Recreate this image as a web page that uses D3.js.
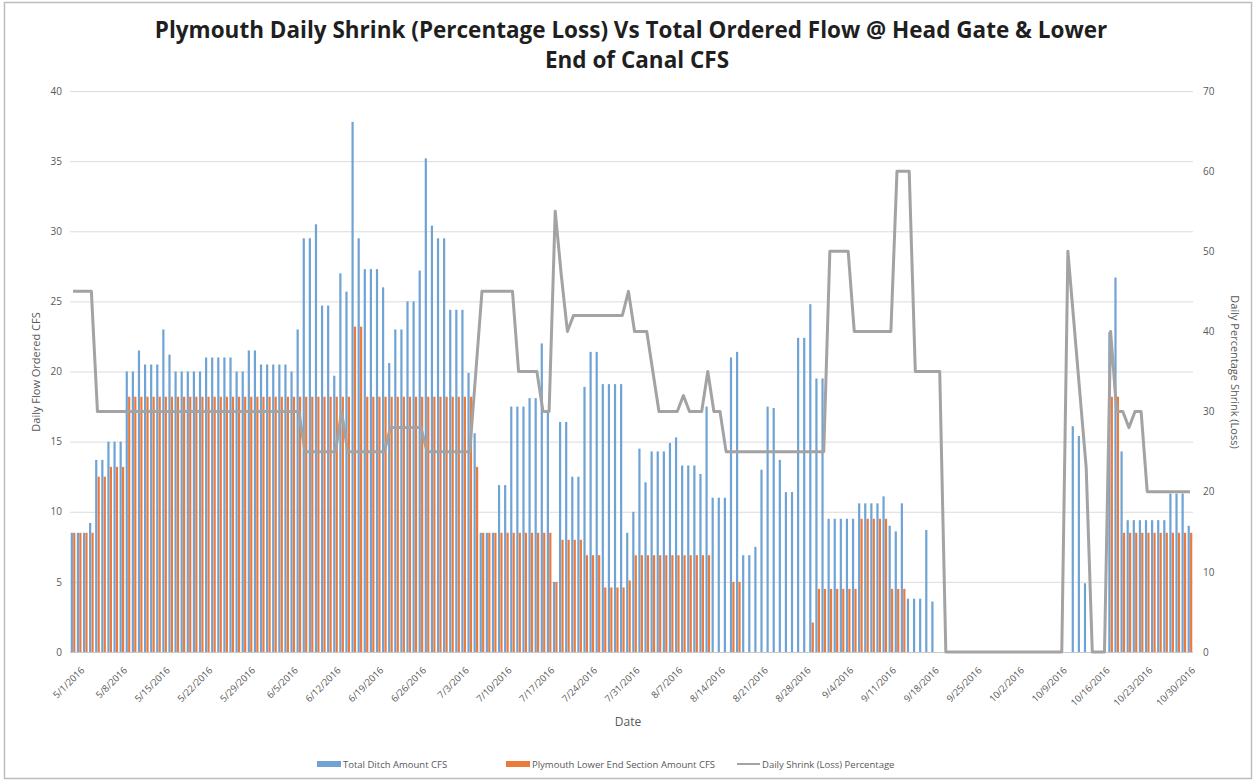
<!DOCTYPE html>
<html><head><meta charset="utf-8">
<script src="https://cdn.jsdelivr.net/npm/d3@7"></script>
<style>body{margin:0;background:#fff;} svg{display:block;}</style>
</head><body>
<svg id="c" width="1257" height="782"></svg>
<script>
// ---------- DATA ----------
const startDate = "2016-05-01";
const dayCount = 184;

const totalDitch = [
 8.5, 8.5, 8.5, 9.2, 13.7, 13.7, 15, 15, 15, 20,
 20, 21.5, 20.5, 20.5, 20.5, 23, 21.2, 20, 20, 20,
 20, 20, 21, 21, 21, 21, 21, 20, 20, 21.5,
 21.5, 20.5, 20.5, 20.5, 20.5, 20.5, 20, 23, 29.5, 29.5,
 30.5, 24.7, 24.7, 19.7, 27, 25.7, 37.8, 29.5, 27.3, 27.3,
 27.3, 26, 20.6, 23, 23, 25, 25, 27.2, 35.2, 30.4,
 29.5, 29.5, 24.4, 24.4, 24.4, 19.9, 15.6, 8.5, 8.5, 8.5,
 11.9, 11.9, 17.5, 17.5, 17.5, 18.1, 18.1, 22, 17.1, 5,
 16.4, 16.4, 12.5, 12.5, 18.9, 21.4, 21.4, 19.1, 19.1, 19.1,
 19.1, 8.5, 10, 14.5, 12.1, 14.3, 14.3, 14.3, 14.9, 15.3,
 13.3, 13.3, 13.3, 12.7, 17.5, 11, 11, 11, 21, 21.4,
 6.9, 6.9, 7.5, 13, 17.5, 17.4, 13.7, 11.4, 11.4, 22.4,
 22.4, 24.8, 19.5, 19.5, 9.5, 9.5, 9.5, 9.5, 9.5, 10.6,
 10.6, 10.6, 10.6, 11.1, 9.0, 8.6, 10.6, 3.8, 3.8, 3.8,
 8.7, 3.6, 0, 0, 0, 0, 0, 0, 0, 0,
 0, 0, 0, 0, 0, 0, 0, 0, 0, 0,
 0, 0, 0, 0, 16.1, 15.4, 4.9, 0, 0, 0,
 22.8, 26.7, 14.3, 9.4, 9.4, 9.4, 9.4, 9.4, 9.4, 9.4,
 11.3, 11.3, 11.3, 9.0
];

const lowerEnd = [
 8.5, 8.5, 8.5, 8.5, 12.5, 12.5, 13.2, 13.2, 13.2, 18.2,
 18.2, 18.2, 18.2, 18.2, 18.2, 18.2, 18.2, 18.2, 18.2, 18.2,
 18.2, 18.2, 18.2, 18.2, 18.2, 18.2, 18.2, 18.2, 18.2, 18.2,
 18.2, 18.2, 18.2, 18.2, 18.2, 18.2, 18.2, 18.2, 18.2, 18.2,
 18.2, 18.2, 18.2, 18.2, 18.2, 18.2, 23.2, 23.2, 18.2, 18.2,
 18.2, 18.2, 18.2, 18.2, 18.2, 18.2, 18.2, 18.2, 18.2, 18.2,
 18.2, 18.2, 18.2, 18.2, 18.2, 18.2, 13.2, 8.5, 8.5, 8.5,
 8.5, 8.5, 8.5, 8.5, 8.5, 8.5, 8.5, 8.5, 8.5, 5,
 8, 8, 8, 8, 6.9, 6.9, 6.9, 4.6, 4.6, 4.6,
 4.6, 5.1, 6.9, 6.9, 6.9, 6.9, 6.9, 6.9, 6.9, 6.9,
 6.9, 6.9, 6.9, 6.9, 6.9, 0, 0, 0, 5, 5,
 0, 0, 0, 0, 0, 0, 0, 0, 0, 0,
 0, 2.1, 4.5, 4.5, 4.5, 4.5, 4.5, 4.5, 4.5, 9.5,
 9.5, 9.5, 9.5, 9.5, 4.5, 4.5, 4.5, 0, 0, 0,
 0, 0, 0, 0, 0, 0, 0, 0, 0, 0,
 0, 0, 0, 0, 0, 0, 0, 0, 0, 0,
 0, 0, 0, 0, 0, 0, 0, 0, 0, 0,
 18.2, 18.2, 8.5, 8.5, 8.5, 8.5, 8.5, 8.5, 8.5, 8.5,
 8.5, 8.5, 8.5, 8.5
];

const shrinkPct = [
 45, 45, 45, 45, 30, 30, 30, 30, 30, 30,
 30, 30, 30, 30, 30, 30, 30, 30, 30, 30,
 30, 30, 30, 30, 30, 30, 30, 30, 30, 30,
 30, 30, 30, 30, 30, 30, 30, 30, 25, 25,
 25, 25, 25, 25, 30, 25, 25, 25, 25, 25,
 25, 25, 28, 28, 28, 28, 28, 28, 25, 25,
 25, 25, 25, 25, 25, 25, 35, 45, 45, 45,
 45, 45, 45, 35, 35, 35, 35, 30, 30, 55,
 47, 40, 42, 42, 42, 42, 42, 42, 42, 42,
 42, 45, 40, 40, 40, 35, 30, 30, 30, 30,
 32, 30, 30, 30, 35, 30, 30, 25, 25, 25,
 25, 25, 25, 25, 25, 25, 25, 25, 25, 25,
 25, 25, 25, 25, 50, 50, 50, 50, 40, 40,
 40, 40, 40, 40, 40, 60, 60, 60, 35, 35,
 35, 35, 35, 0, 0, 0, 0, 0, 0, 0,
 0, 0, 0, 0, 0, 0, 0, 0, 0, 0,
 0, 0, 0, 50, 41, 32, 23, 0, 0, 0,
 40, 30, 30, 28, 30, 30, 20, 20, 20, 20,
 20, 20, 20, 20
];

const leftTicks = [0, 5, 10, 15, 20, 25, 30, 35, 40];
const rightTicks = [0, 10, 20, 30, 40, 50, 60, 70];
const tickLabels = ["5/1/2016","5/8/2016","5/15/2016","5/22/2016","5/29/2016","6/5/2016","6/12/2016",
 "6/19/2016","6/26/2016","7/3/2016","7/10/2016","7/17/2016","7/24/2016","7/31/2016","8/7/2016",
 "8/14/2016","8/21/2016","8/28/2016","9/4/2016","9/11/2016","9/18/2016","9/25/2016","10/2/2016",
 "10/9/2016","10/16/2016","10/23/2016","10/30/2016"];
const seriesNames = ["Total Ditch Amount CFS", "Plymouth Lower End Section Amount CFS", "Daily Shrink (Loss) Percentage"];

// ---------- CHART ----------
const fmt = d3.timeFormat("%-m/%-d/%Y");
const start = d3.timeParse("%Y-%m-%d")(startDate);
const categories = d3.range(dayCount).map(i => fmt(d3.timeDay.offset(start, i)));

const svg = d3.select("#c");
const L = 70, R = 1193, T = 91, B = 652;
const colBlue = "#6fa3d4", colOrange = "#ec7a3a", colLine = "#a3a3a3";
const txt = "#595959";
const font = "'Open Sans', 'Liberation Sans', sans-serif";

svg.append("rect").attr("x",0).attr("y",0).attr("width",1257).attr("height",782).attr("fill","#fff");
svg.append("rect").attr("x",4.5).attr("y",2.5).attr("width",1247).attr("height",776)
  .attr("fill","none").attr("stroke","#bdbdbd").attr("stroke-width",1.5);

const x = d3.scaleBand().domain(categories).range([L, R]).paddingInner(0).paddingOuter(0);
const sub = d3.scaleBand().domain(["total","lower"]).range([0, x.bandwidth()]).paddingInner(0.1).paddingOuter(0.3);
const yL = d3.scaleLinear().domain([0, 40]).range([B, T]);
const yR = d3.scaleLinear().domain([0, 70]).range([B, T]);

// gridlines
svg.append("g").selectAll("line").data(leftTicks.slice(1)).join("line")
  .attr("x1", L).attr("x2", R).attr("y1", d => yL(d)+0.5).attr("y2", d => yL(d)+0.5)
  .attr("stroke", "#dcdcdc").attr("stroke-width", 1);

// bars
const rows = categories.map((c, i) => ({c, total: totalDitch[i], lower: lowerEnd[i], pct: shrinkPct[i]}));
const gb = svg.append("g");
gb.selectAll("rect.t").data(rows).join("rect").attr("class","t")
  .attr("x", d => x(d.c) + sub("total")).attr("width", sub.bandwidth())
  .attr("y", d => yL(d.total)).attr("height", d => B - yL(d.total)).attr("fill", colBlue);
gb.selectAll("rect.l").data(rows).join("rect").attr("class","l")
  .attr("x", d => x(d.c) + sub("lower")).attr("width", sub.bandwidth())
  .attr("y", d => yL(d.lower)).attr("height", d => B - yL(d.lower)).attr("fill", colOrange);

// bottom axis line
svg.append("line").attr("x1", L).attr("x2", R).attr("y1", B+0.5).attr("y2", B+0.5)
  .attr("stroke", "#c8c8c8").attr("stroke-width", 1);

// shrink line
const line = d3.line().x(d => x(d.c) + x.bandwidth()/2).y(d => yR(d.pct));
svg.append("path").datum(rows).attr("d", line).attr("fill","none")
  .attr("stroke", colLine).attr("stroke-width", 3).attr("stroke-linejoin","round");

// left axis
const axL = svg.append("g").attr("transform", `translate(${L-8},0)`)
  .call(d3.axisLeft(yL).tickValues(leftTicks).tickSize(0).tickPadding(0));
axL.select(".domain").remove();
axL.selectAll("text").attr("fill", txt).style("font-family", font).style("font-size", "10px");

// right axis
const axR = svg.append("g").attr("transform", `translate(${R+10},0)`)
  .call(d3.axisRight(yR).tickValues(rightTicks).tickSize(0).tickPadding(0));
axR.select(".domain").remove();
axR.selectAll("text").attr("fill", txt).style("font-family", font).style("font-size", "10px");

// bottom axis labels
const tickCats = tickLabels.map(lbl => categories.indexOf(lbl)).filter(i => i >= 0).map(i => categories[i]);
const axB = svg.append("g").attr("transform", `translate(0,${B+4})`)
  .call(d3.axisBottom(x).tickValues(tickCats).tickSize(0).tickPadding(0));
axB.select(".domain").remove();
axB.selectAll("text").attr("fill", txt).style("font-family", font).style("font-size", "9.5px")
  .attr("text-anchor", "end").attr("dy", "0")
  .attr("transform", "translate(12,15) rotate(-45)");

// axis titles
svg.append("text").attr("transform", "translate(40,372) rotate(-90)").attr("text-anchor","middle")
  .attr("fill", txt).style("font-family", font).style("font-size","11px").text("Daily Flow Ordered CFS");
svg.append("text").attr("transform", "translate(1231,372) rotate(90)").attr("text-anchor","middle")
  .attr("fill", txt).style("font-family", font).style("font-size","11px").text("Daily Percentage Shrink (Loss)");
svg.append("text").attr("x", 628).attr("y", 726).attr("text-anchor","middle")
  .attr("fill", txt).style("font-family", font).style("font-size","12px").text("Date");

// title
const title = svg.append("text").attr("text-anchor","middle").attr("fill","#1f1f1f")
  .style("font-family", font).style("font-size","22.5px").style("font-weight","bold");
title.append("tspan").attr("x", 631).attr("y", 38).text("Plymouth Daily Shrink (Percentage Loss) Vs Total Ordered Flow @ Head Gate & Lower");
title.append("tspan").attr("x", 637).attr("y", 68).text("End of Canal CFS");

// legend
const lg = svg.append("g").style("font-family", font).style("font-size","9.5px").attr("fill", txt);
lg.append("rect").attr("x", 317).attr("y", 761).attr("width", 24).attr("height", 6).attr("fill", colBlue);
lg.append("text").attr("x", 343).attr("y", 767.5).text(seriesNames[0]);
lg.append("rect").attr("x", 506).attr("y", 761).attr("width", 24).attr("height", 6).attr("fill", colOrange);
lg.append("text").attr("x", 532).attr("y", 767.5).text(seriesNames[1]);
lg.append("line").attr("x1", 737).attr("x2", 760).attr("y1", 764).attr("y2", 764).attr("stroke", colLine).attr("stroke-width", 2);
lg.append("text").attr("x", 762).attr("y", 767.5).text(seriesNames[2]);
</script>
</body></html>
